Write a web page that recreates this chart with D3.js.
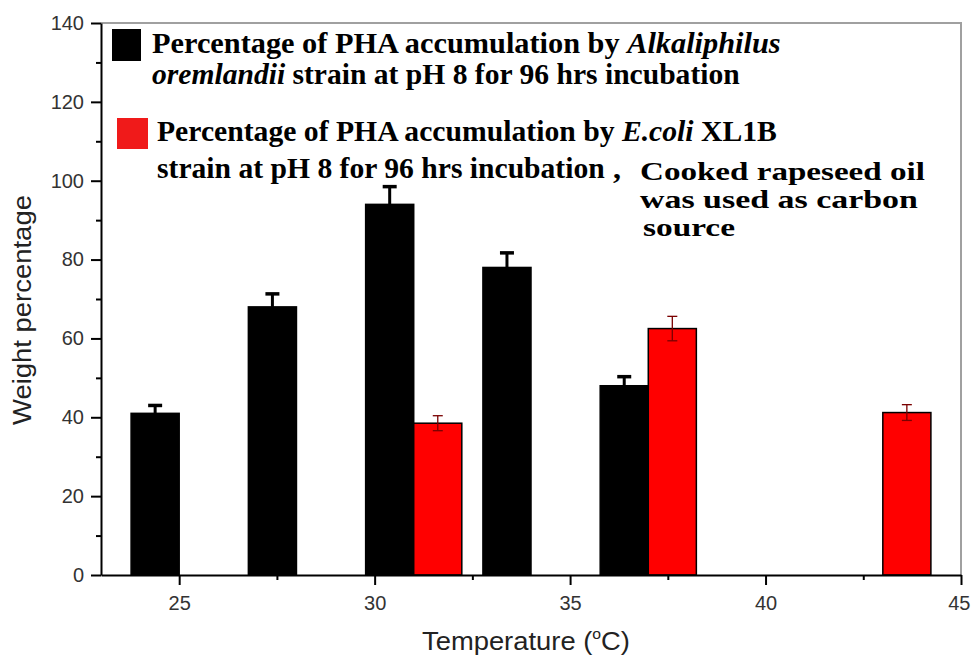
<!DOCTYPE html>
<html>
<head>
<meta charset="utf-8">
<script src="https://cdn.jsdelivr.net/npm/d3@7"></script>
<style>
  html, body { margin: 0; padding: 0; background: #fff; }
  svg { display: block; }
</style>
</head>
<body>
<svg id="chart" width="971" height="660"></svg>
<script>
// Incubation temperatures (°C) at which bars are grouped
const temperatures = [25, 28, 31, 34, 37, 43];
// PHA accumulation (weight %) by Alkaliphilus oremlandii, with upper error
const alkaliphilus = [41, 68, 94, 78, 48, null];
const alkaliphilusErr = [2.0, 3.3, 4.5, 3.7, 2.3, null];
// PHA accumulation (weight %) by E.coli XL1B, with symmetric error
const ecoli = [null, null, 38.5, null, 62.5, 41.2];
const ecoliErr = [null, null, 1.9, null, 3.1, 2.0];
// Axis ticks
const xTicks = [25, 30, 35, 40, 45];
const xMinorTicks = [27.5, 32.5, 37.5, 42.5];
const yTicks = [0, 20, 40, 60, 80, 100, 120, 140];
const yMinorTicks = [10, 30, 50, 70, 90, 110, 130];

const svg = d3.select("#chart");
const margin = { left: 101, right: 10, top: 23, bottom: 85 };
const W = 971, H = 660;
const x = d3.scaleLinear().domain([23, 45]).range([margin.left, W - margin.right]);
const y = d3.scaleLinear().domain([0, 140]).range([H - margin.bottom, margin.top]);
const barW = 1.23; // bar width in temperature units

const axisFont = "Arial, 'Liberation Sans', sans-serif";
const serif = "'Times New Roman', 'Liberation Serif', serif";

// Squeeze or stretch a text horizontally so it spans the given width
function fitWidth(t, lx, ly, w) {
  const natural = t.node().getComputedTextLength();
  t.attr("transform", `translate(${lx},${ly}) scale(${w / natural},1)`);
}

// Frame (top and right)
svg.append("path")
  .attr("d", `M${x(23)},${y(140)}H${x(45)}V${y(0)}`)
  .attr("fill", "none").attr("stroke", "#a0a0a0").attr("stroke-width", 2);

// Alkaliphilus bars sit left of each group position, E.coli bars right of it
const blackData = temperatures.map((t, i) => ({ t, v: alkaliphilus[i], e: alkaliphilusErr[i] })).filter(d => d.v != null);
const redData = temperatures.map((t, i) => ({ t, v: ecoli[i], e: ecoliErr[i] })).filter(d => d.v != null);

svg.append("g").selectAll("rect").data(blackData).join("rect")
  .attr("x", d => x(d.t - barW)).attr("width", d => x(d.t) - x(d.t - barW))
  .attr("y", d => y(d.v)).attr("height", d => y(0) - y(d.v))
  .attr("fill", "#000").attr("stroke", "#000").attr("stroke-width", 1.5);

svg.append("g").selectAll("rect").data(redData).join("rect")
  .attr("x", d => x(d.t)).attr("width", d => x(d.t + barW) - x(d.t))
  .attr("y", d => y(d.v)).attr("height", d => y(0) - y(d.v))
  .attr("fill", "#ff0000").attr("stroke", "#000").attr("stroke-width", 1.5);

// Error bars: Alkaliphilus upper only (heavy), E.coli both ways (thin)
const be = svg.append("g").selectAll("g").data(blackData).join("g");
be.append("line")
  .attr("x1", d => x(d.t - barW / 2)).attr("x2", d => x(d.t - barW / 2))
  .attr("y1", d => y(d.v)).attr("y2", d => y(d.v + d.e))
  .attr("stroke", "#000").attr("stroke-width", 3);
be.append("line")
  .attr("x1", d => x(d.t - barW / 2) - 7).attr("x2", d => x(d.t - barW / 2) + 7)
  .attr("y1", d => y(d.v + d.e)).attr("y2", d => y(d.v + d.e))
  .attr("stroke", "#000").attr("stroke-width", 3.5);

const re = svg.append("g").selectAll("g").data(redData).join("g");
re.append("line")
  .attr("x1", d => x(d.t + barW / 2)).attr("x2", d => x(d.t + barW / 2))
  .attr("y1", d => y(d.v - d.e)).attr("y2", d => y(d.v + d.e))
  .attr("stroke", "#7a0000").attr("stroke-width", 1.3);
re.selectAll("line.cap").data(d => [d.v - d.e, d.v + d.e].map(v => ({ t: d.t, v }))).join("line")
  .attr("class", "cap")
  .attr("x1", d => x(d.t + barW / 2) - 5).attr("x2", d => x(d.t + barW / 2) + 5)
  .attr("y1", d => y(d.v)).attr("y2", d => y(d.v))
  .attr("stroke", "#7a0000").attr("stroke-width", 1.3);

// Axes
function styleAxis(g) {
  g.select(".domain").attr("stroke", "#000").attr("stroke-width", 2);
  g.selectAll(".tick line").attr("stroke", "#000").attr("stroke-width", 2);
  g.selectAll(".tick text").attr("fill", "#333").attr("font-family", axisFont).attr("font-size", 20);
}
svg.append("g").attr("transform", `translate(0,${y(0)})`)
  .call(d3.axisBottom(x).tickValues(xTicks).tickSize(10).tickSizeOuter(0).tickPadding(11).tickFormat(d3.format("d")))
  .call(styleAxis)
  // the last label would run past the right edge: end it at the edge instead
  .call(g => g.selectAll(".tick text").filter(d => d === 45).attr("text-anchor", "end").attr("dx", 9));
svg.append("g").attr("transform", `translate(0,${y(0)})`)
  .call(d3.axisBottom(x).tickValues(xMinorTicks).tickSize(5).tickSizeOuter(0).tickFormat(""))
  .call(g => { g.select(".domain").remove(); g.selectAll(".tick line").attr("stroke", "#000").attr("stroke-width", 2); });

svg.append("g").attr("transform", `translate(${x(23)},0)`)
  .call(d3.axisLeft(y).tickValues(yTicks).tickSize(10).tickSizeOuter(0).tickPadding(7))
  .call(styleAxis);
svg.append("g").attr("transform", `translate(${x(23)},0)`)
  .call(d3.axisLeft(y).tickValues(yMinorTicks).tickSize(5).tickSizeOuter(0).tickFormat(""))
  .call(g => { g.select(".domain").remove(); g.selectAll(".tick line").attr("stroke", "#000").attr("stroke-width", 2); });

// Axis titles
const xt = svg.append("text")
  .attr("font-family", axisFont).attr("font-size", 26).attr("fill", "#222");
xt.append("tspan").text("Temperature (");
xt.append("tspan").attr("font-size", 15).attr("dy", -11).text("o");
xt.append("tspan").attr("dy", 11).text("C)");
fitWidth(xt, 422, 650, 208);

const yt = svg.append("text")
  .attr("font-family", axisFont).attr("font-size", 25).attr("fill", "#222")
  .text("Weight percentage");
{
  const natural = yt.node().getComputedTextLength();
  yt.attr("transform", `translate(31,425) rotate(-90) scale(${230 / natural},1)`);
}

// Legend and annotation
const legend = svg.append("g");
legend.append("rect").attr("x", 112).attr("y", 29).attr("width", 29).attr("height", 32).attr("fill", "#000");
legend.append("rect").attr("x", 117).attr("y", 118).attr("width", 31).attr("height", 31).attr("fill", "#f01a1a");

// Each line: [x, baseline, width, size, parts]  (parts: [text, italic])
const lines = [
  [152, 53, 629, 29, [["Percentage of PHA accumulation by ", false], ["Alkaliphilus", true]]],
  [152, 84, 588, 29, [["oremlandii", true], [" strain at pH 8 for 96 hrs incubation", false]]],
  [157, 141, 620, 29, [["Percentage of PHA accumulation by ", false], ["E.coli", true], [" XL1B", false]]],
  [157, 178, 448, 29, [["strain at pH 8 for 96 hrs incubation", false]]],
  [613, 178, 8, 29, [[",", false]]],
  [640, 180, 285, 25, [["Cooked rapeseed oil", false]]],
  [640, 208, 278, 25, [["was used as carbon", false]]],
  [643, 236, 92, 25, [["source", false]]]
];
lines.forEach(([lx, ly, w, fs, parts]) => {
  const t = legend.append("text")
    .attr("font-family", serif).attr("font-weight", "bold").attr("font-size", fs).attr("fill", "#000");
  parts.forEach(([s, it]) => t.append("tspan").attr("font-style", it ? "italic" : "normal").text(s));
  fitWidth(t, lx, ly, w);
});
</script>
</body>
</html>
